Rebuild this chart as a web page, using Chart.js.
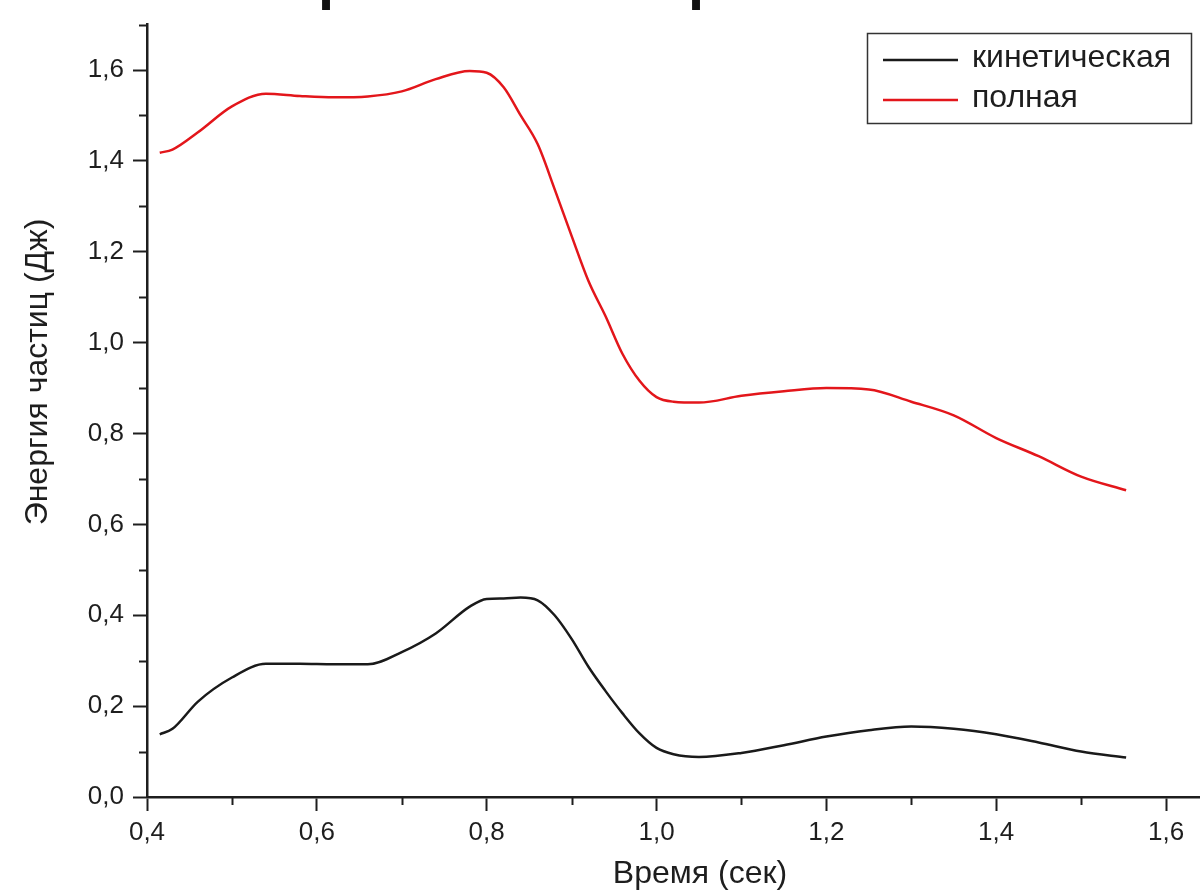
<!DOCTYPE html>
<html>
<head>
<meta charset="utf-8">
<script src="https://cdn.jsdelivr.net/npm/chart.js@4"></script>
<style>
  html, body { margin: 0; padding: 0; background: #fff; }
  #wrap { width: 1200px; height: 892px; }
</style>
</head>
<body>
<div id="wrap"><canvas id="chart" width="1200" height="892"></canvas></div>
<script>
// time points (sec)
const time = [0.415, 0.43, 0.46, 0.5, 0.54, 0.58, 0.62, 0.66, 0.7, 0.74, 0.78, 0.8, 0.82, 0.84, 0.86, 0.88,
  0.9, 0.92, 0.94, 0.96, 0.98, 1.0, 1.02, 1.05, 1.1, 1.15, 1.2, 1.25, 1.3, 1.35, 1.4, 1.45, 1.5, 1.553];

// kinetic energy (J)
const kinetic = [0.138, 0.150, 0.210, 0.263, 0.293, 0.293, 0.292, 0.292, 0.319, 0.360, 0.419, 0.436, 0.437, 0.439, 0.433, 0.400,
  0.348, 0.286, 0.233, 0.184, 0.140, 0.108, 0.094, 0.088, 0.097, 0.114, 0.133, 0.147, 0.155, 0.150, 0.138, 0.120, 0.100, 0.087];

// total energy (J)
const total = [1.418, 1.425, 1.463, 1.520, 1.548, 1.543, 1.540, 1.542, 1.553, 1.580, 1.598, 1.594, 1.562, 1.500, 1.437, 1.338,
  1.235, 1.135, 1.058, 0.975, 0.916, 0.880, 0.870, 0.868, 0.883, 0.893, 0.900, 0.897, 0.870, 0.840, 0.790, 0.750, 0.705, 0.675];

// axis ticks (majors every 0.2 get a label)
const xTicks = [0.4, 0.5, 0.6, 0.7, 0.8, 0.9, 1.0, 1.1, 1.2, 1.3, 1.4, 1.5, 1.6];
const yTicks = [0, 0.1, 0.2, 0.3, 0.4, 0.5, 0.6, 0.7, 0.8, 0.9, 1.0, 1.1, 1.2, 1.3, 1.4, 1.5, 1.6, 1.7];

const seriesLabels = ['кинетическая', 'полная'];
const xTitle = 'Время (сек)';
const yTitle = 'Энергия частиц (Дж)';

const FONT = '"Liberation Sans", Arial, sans-serif';
const INK = '#1e1e1e';

const comma = v => v.toFixed(1).replace('.', ',');
const isMajor = v => Math.round(v * 10) % 2 === 0;

function toPoints(ys) {
  return time.map((t, i) => ({ x: t, y: ys[i] }));
}

// minor ticks, axis titles, legend box and the clipped heading
const decor = {
  id: 'decor',
  afterDraw(chart) {
    const ctx = chart.ctx;
    const xs = chart.scales.x, ys = chart.scales.y;
    const area = chart.chartArea;
    ctx.save();
    ctx.strokeStyle = INK;
    ctx.lineWidth = 2;
    ys.ticks.forEach(t => {
      if (isMajor(t.value)) return;
      const p = Math.round(ys.getPixelForValue(t.value)) + 0.5;
      ctx.beginPath(); ctx.moveTo(area.left - 8, p); ctx.lineTo(area.left, p); ctx.stroke();
    });
    xs.ticks.forEach(t => {
      if (isMajor(t.value)) return;
      const p = Math.round(xs.getPixelForValue(t.value)) + 0.5;
      ctx.beginPath(); ctx.moveTo(p, area.bottom); ctx.lineTo(p, area.bottom + 8); ctx.stroke();
    });

    ctx.fillStyle = INK;
    ctx.font = '32px ' + FONT;
    ctx.textAlign = 'center';
    ctx.textBaseline = 'middle';
    ctx.fillText(xTitle, 700, 874);
    ctx.save();
    ctx.translate(38, 372);
    ctx.rotate(-Math.PI / 2);
    ctx.fillText(yTitle, 0, 0);
    ctx.restore();

    // legend
    ctx.lineWidth = 1.5;
    ctx.strokeStyle = '#333';
    ctx.strokeRect(867.5, 33.5, 324, 90);
    ctx.font = '32px ' + FONT;
    ctx.textAlign = 'left';
    chart.data.datasets.forEach((ds, i) => {
      const y = 60 + i * 40;
      ctx.strokeStyle = ds.borderColor;
      ctx.lineWidth = 2.5;
      ctx.beginPath(); ctx.moveTo(883, y); ctx.lineTo(958, y); ctx.stroke();
      ctx.fillStyle = INK;
      ctx.fillText(ds.label, 972, y - 2);
    });

    // heading cut off by the top edge
    ctx.font = '90px ' + FONT;
    ctx.textBaseline = 'alphabetic';
    ctx.fillStyle = '#111';
    ctx.fillText('р', 316, -9);
    ctx.fillText('р', 686, -9);
    ctx.restore();
  }
};

const tickGrid = {
  drawOnChartArea: false, tickLength: 14, tickWidth: 2,
  tickColor: c => (c.tick && isMajor(c.tick.value)) ? INK : 'rgba(0,0,0,0)'
};

new Chart(document.getElementById('chart'), {
  type: 'line',
  data: {
    datasets: [
      { label: seriesLabels[0], data: toPoints(kinetic), borderColor: '#1a1a1a', borderWidth: 2.5,
        pointRadius: 0, cubicInterpolationMode: 'monotone', fill: false },
      { label: seriesLabels[1], data: toPoints(total), borderColor: '#e3161b', borderWidth: 2.5,
        pointRadius: 0, cubicInterpolationMode: 'monotone', fill: false }
    ]
  },
  options: {
    responsive: false,
    animation: false,
    layout: { padding: { top: 23, left: 0, right: 0, bottom: 0 } },
    plugins: { legend: { display: false }, tooltip: { enabled: false } },
    scales: {
      x: {
        type: 'linear', min: 0.4, max: 1.64,
        afterBuildTicks: s => { s.ticks = xTicks.map(v => ({ value: v })); },
        afterFit: s => { s.height = 95; },
        ticks: {
          padding: 6, color: INK, font: { family: FONT, size: 26 },
          autoSkip: false, maxRotation: 0,
          callback: v => isMajor(v) ? comma(v) : ''
        },
        grid: tickGrid,
        border: { display: true, color: INK, width: 2.5 }
      },
      y: {
        type: 'linear', min: 0, max: 1.7,
        afterBuildTicks: s => { s.ticks = yTicks.map(v => ({ value: v })); },
        afterFit: s => { s.width = 147; },
        ticks: {
          padding: 9, color: INK, font: { family: FONT, size: 26 },
          autoSkip: false,
          callback: v => isMajor(v) ? comma(v) : ''
        },
        grid: tickGrid,
        border: { display: true, color: INK, width: 2.5 }
      }
    }
  },
  plugins: [decor]
});
</script>
</body>
</html>
